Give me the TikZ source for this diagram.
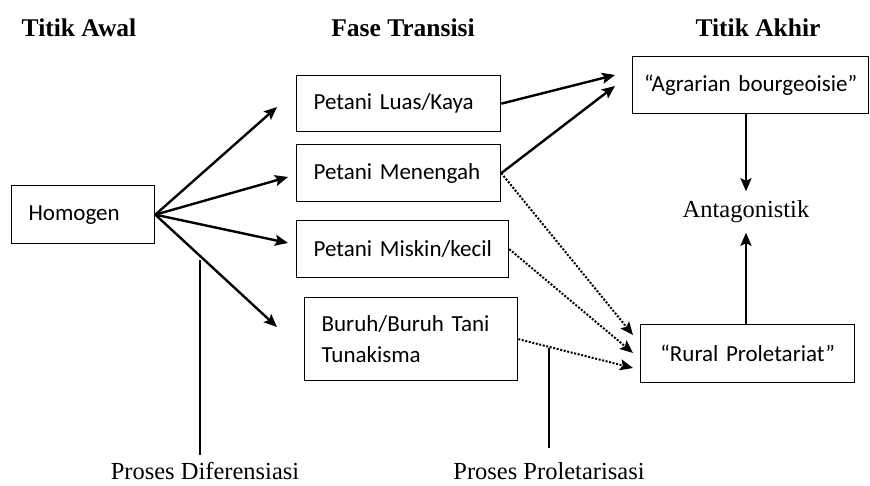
\documentclass[tikz,border=0pt]{standalone}
\usepackage{fontspec}
\setmainfont{Liberation Serif}
\newfontfamily\boxfont{Carlito}
\usetikzlibrary{arrows.meta}

\tikzset{
  kotak/.style={draw, line width=1.3pt, rectangle, inner xsep=17pt, inner ysep=0pt,
    anchor=north west, align=left, font=\boxfont\fontsize{23}{31}\selectfont},
  judul/.style={font=\bfseries\fontsize{25.5}{30}\selectfont, anchor=base},
  ket/.style={font=\fontsize{24.5}{30}\selectfont, anchor=base},
  panah/.style={-{Stealth[length=13pt,width=11pt,inset=2.5pt]}, line width=2.4pt},
  titik/.style={-{Stealth[length=13pt,width=11pt,inset=2.5pt]}, line width=2pt, dash pattern=on 2pt off 1.6pt},
}

\begin{document}
\begin{tikzpicture}[x=1pt,y=-1pt]
  \useasboundingbox (0,0) rectangle (870,485);

  \node[judul] (awal) at (79,36) {Titik Awal};
  \node[judul] (transisi) at (403,36) {Fase Transisi};
  \node[judul] (akhir) at (758,36) {Titik Akhir};

  \node[kotak, text width=109pt, minimum height=58pt] (homogen) at (11,185) {Homogen};

  \node[kotak, text width=170pt, minimum height=56pt] (luas) at (296,75) {Petani Luas/Kaya};
  \node[kotak, text width=170pt, minimum height=57pt] (menengah) at (296,144) {\mbox{Petani Menengah}};
  \node[kotak, text width=178pt, minimum height=57pt] (miskin) at (296,220) {\mbox{Petani Miskin/kecil}};
  \node[kotak, text width=179pt, minimum height=83pt] (buruh) at (304,297) {Buruh/Buruh Tani\\Tunakisma};

  \node[kotak, align=center, inner xsep=0pt, text width=236pt, minimum height=57pt] (agrarian) at (632,56) {\mbox{“Agrarian bourgeoisie”}};
  \node[kotak, align=center, inner xsep=0pt, text width=214pt, minimum height=58pt] (rural) at (640,324) {“Rural Proletariat”};

  \node[font=\fontsize{24.5}{30}\selectfont, inner sep=0pt, minimum height=41pt] (antag) at (746,212) {Antagonistik};

  % panah dari homogen
  \coordinate (k1) at (277,107);
  \coordinate (k2) at (288,177);
  \coordinate (k3) at (288,243);
  \coordinate (k4) at (277,327);
  \draw[panah] (homogen.east) -- (k1);
  \draw[panah] (homogen.east) -- (k2);
  \draw[panah] (homogen.east) -- (k3);
  \draw[panah] (homogen.east) -- (k4);

  % ke titik akhir
  \coordinate (a1) at (615,75);
  \coordinate (a2) at (615,86);
  \draw[panah] (luas.east) -- (a1);
  \draw[panah] (menengah.east) -- (a2);

  \coordinate (r1) at (633,335);
  \coordinate (r2) at (633,353);
  \coordinate (r3) at (633,368);
  \draw[titik] (menengah.east) -- (r1);
  \draw[titik] (miskin.east) -- (r2);
  \draw[titik] (buruh.east) -- (r3);

  \draw[panah] (agrarian.south -| antag) -- (antag.north);
  \draw[panah] (rural.north -| antag) -- (antag.south);

  % keterangan proses
  \node[ket] (dif) at (205,479) {Proses Diferensiasi};
  \node[ket] (prol) at (549,479) {Proses Proletarisasi};
  \coordinate (d1) at (200,260);
  \coordinate (d2) at (200,455);
  \coordinate (p1) at (549,348);
  \coordinate (p2) at (549,448);
  \draw[line width=1.3pt] (d1) -- (d2);
  \draw[line width=1.3pt] (p1) -- (p2);
\end{tikzpicture}
\end{document}
